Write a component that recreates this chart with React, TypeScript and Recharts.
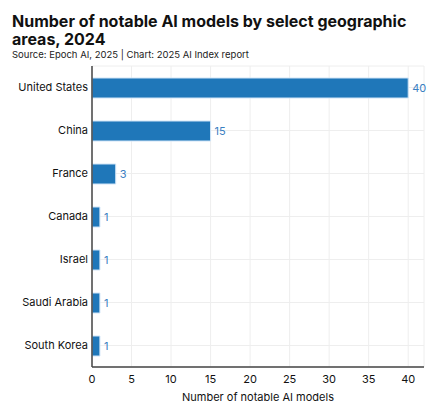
import { BarChart, Bar, XAxis, YAxis, CartesianGrid, LabelList } from 'recharts';

const areas = ['United States', 'China', 'France', 'Canada', 'Israel', 'Saudi Arabia', 'South Korea'];
const modelCounts = [40, 15, 3, 1, 1, 1, 1];
const xTicks = [0, 5, 10, 15, 20, 25, 30, 35, 40];

const data = areas.map((area, i) => ({ area, models: modelCounts[i] }));

const FONT = 'Inter, "Noto Sans", sans-serif';

export default function App() {
  return (
    <div style={{ position: 'absolute', left: 0, top: 0, width: 434, height: 407, background: '#fff', fontFamily: FONT }}>
      <div style={{ position: 'absolute', left: 12, top: 12, width: 420, fontSize: 16, fontWeight: 700, lineHeight: '18px', color: '#111' }}>
        Number of notable AI models by select geographic areas, 2024
      </div>
      <div style={{ position: 'absolute', left: 12, top: 49, fontSize: 9.5, color: '#222' }}>
        Source: Epoch AI, 2025 | Chart: 2025 AI Index report
      </div>
      <div style={{ position: 'absolute', left: 0, top: 60 }}>
        <BarChart
          width={434}
          height={347}
          data={data}
          layout="vertical"
          margin={{ top: 6, right: 10, bottom: 6, left: 0 }}
        >
          <CartesianGrid stroke="#eeeeee" strokeWidth={1} />
          <XAxis
            type="number"
            dataKey="models"
            domain={[0, 42]}
            ticks={xTicks}
            height={34}
            tickLine={false}
            axisLine={{ stroke: '#444', strokeWidth: 1.5 }}
            tick={{ fontSize: 11, fill: '#111', fontFamily: FONT }}
            tickMargin={2}
            label={{ value: 'Number of notable AI models', position: 'insideBottom', offset: 0, fontSize: 11, fill: '#111', fontFamily: FONT }}
          />
          <YAxis
            type="category"
            dataKey="area"
            width={92}
            tickLine={false}
            tickSize={3}
            tickMargin={1}
            axisLine={{ stroke: '#444', strokeWidth: 1.5 }}
            tick={{ fontSize: 11, fill: '#111', fontFamily: FONT }}
          />
          <Bar
            dataKey="models"
            fill="#1f77b9"
            stroke="#cfe4f7"
            strokeWidth={1}
            barSize={20}
            isAnimationActive={false}
          >
            <LabelList dataKey="models" position="right" offset={4} fill="#3a80c2" fontSize={11} fontFamily={FONT} />
          </Bar>
        </BarChart>
      </div>
    </div>
  );
}
